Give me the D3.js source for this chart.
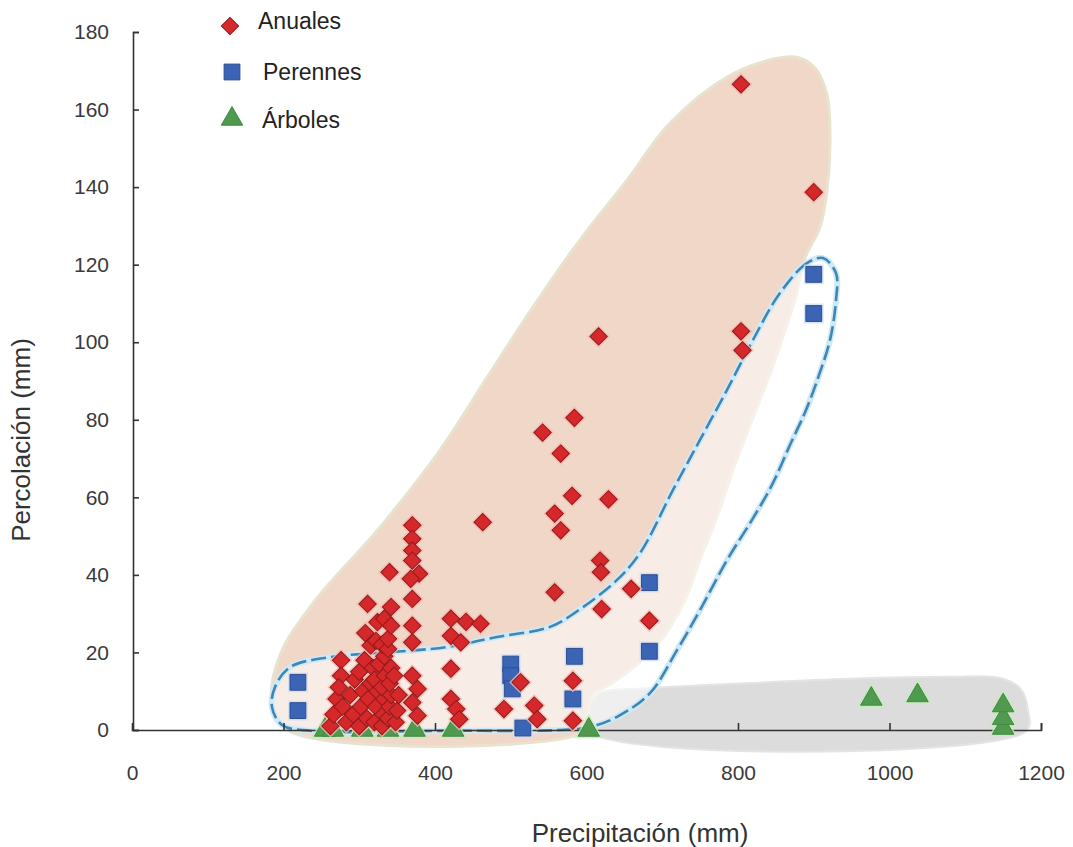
<!DOCTYPE html>
<html>
<head>
<meta charset="utf-8">
<script src="https://cdn.jsdelivr.net/npm/d3@7"></script>
<style>
  html, body { margin: 0; padding: 0; background: #ffffff; }
  svg { display: block; font-family: "Liberation Sans", Arial, Helvetica, sans-serif; }
</style>
</head>
<body>
<svg id="chart" width="1073" height="847"></svg>
<script>
// ---------------- DATA ----------------
const xTicks = [0, 200, 400, 600, 800, 1000, 1200];
const yTicks = [0, 20, 40, 60, 80, 100, 120, 140, 160, 180];
const xTitle = "Precipitación (mm)";
const yTitle = "Percolación (mm)";
const seriesNames = ["Anuales", "Perennes", "Árboles"];

// Anuales: [precipitación, percolación]
const anuales = [
  [262,1],[266,4],[270,8],[276,18],[276,14],[273,11],[278,6],[283,2],[288,9],[292,4],[294,13],
  [300,1],[302,6],[305,10],[300,15],[307,18],[310,3],[312,8],[315,12],[315,21.8],[311,32.5],[318,16],[308,25],
  [320,2],[322,6],[324,10],[320,13],[326,17],[324,27.8],[322,23],[330,1],[332,4],[333,8],[330,11],[334,14],[333,19],[330,22],[333,28.7],
  [338,3],[340,6],[342,9],[340,12],[342,16],[338,20.9],[338,23.5],[342,26.9],[342,31.7],[340,40.7],[348,2],[350,5],[352,9],[346,14],
  [370,52.8],[370,49.3],[370,46.3],[370,43.7],[379,40.3],[370,33.8],[370,26.9],[370,22.6],[370,14],[377,10.6],[370,7.1],[377,3.7],[368,39],
  [421,28.7],[441,27.9],[460,27.4],[421,24.3],[434,22.6],[421,15.8],[421,8],[428,5.4],[432,2.8],[463,53.6],
  [491,5.4],[531,6.3],[535,2.8],[513,12.3],
  [542,76.7],[558,55.8],[566,51.5],[566,71.3],[584,80.5],[581,60.4],[629,59.5],[558,35.5],[618,43.7],[619,40.7],
  [620,31.2],[659,36.4],[683,28.2],[582,12.7],[582,2.4],[616,101.5],
  [804,102.8],[806,97.9],[804,166.5],[900,138.7]
];
const perennes = [
  [219,12.3],[219,5],[500,17],[500,14],[502,10.6],[516,0.5],[584,19],[582,8],[683,38],[683,20.3],[900,117.5],[900,107.4]
];
const arboles = [
  [255,0],[265,0],[304,0],[338,0],[373,0],[424,0],[603,0],[976,8],[1037,8.9],[1150,0.5],[1150,3],[1150,6.3]
];

// Hand-drawn envelopes (data units)
const anualesZone = [
  [208.6,-0.3],[184.8,7.7],[195.4,19.3],[238.9,32.7],[327.4,52.3],[406.6,72.2],[472.6,92.1],[529.4,109.1],
  [591.4,126.4],[653.5,141.8],[710.2,156.5],[785.5,168.4],[842.2,172.8],[877.9,173.5],[901.7,170.7],
  [917.5,163.7],[921.5,152.1],[917.5,139.2],[908.3,129.7],[888.4,121.7],[875.2,110.9],[858.1,100.6],
  [839.6,90.3],[818.5,79.9],[793.4,67.0],[771.0,54.2],[749.8,43.8],[730.0,33.5],[703.6,24.5],[670.6,17.5],
  [633.7,12.1],[608.6,9.0],[602,3.9],[599.3,-0.3]
];
const arbolesZone = [
  [602,-0.3],[604.6,6.4],[617.8,9.5],[683.8,10.8],[815.8,12.1],[947.9,13.2],[1079.9,13.7],[1145.9,13.4],
  [1172.3,10.8],[1182.8,5.2],[1180.2,-0.3]
];
const perennesZone = [
  [912.2,121.7],[891.1,120.4],[855.4,112.7],[819.8,100.6],[785.5,87.7],[749.8,74.8],[714.2,61.9],[670.6,45.6],
  [640.3,38.7],[595.4,31.7],[551.8,26.6],[481.8,24.0],[415.8,21.4],[327.4,19.9],[261.4,18.8],[208.6,16.2],
  [188.8,11.1],[184.8,5.9],[198.0,1.3],[235,-0.2],[420,-0.2],[565,0],[604.6,0.8],[640.3,3.4],[683.8,9.5],
  [719.5,20.6],[749.8,30.9],[785.5,43.8],[818.5,54.2],[844.9,63.2],[868.6,73.5],[889.8,82.5],[906.9,91.5],
  [921.5,100.6],[929.4,110.9],[929.4,117.8]
];

// ---------------- CHART ----------------
const svg = d3.select("#chart");
const x = d3.scaleLinear().domain([0, 1200]).range([132, 1041]);
const y = d3.scaleLinear().domain([0, 180]).range([730, 32]);

const area = d3.line().x(d => x(d[0])).y(d => y(d[1])).curve(d3.curveCatmullRomClosed.alpha(0.5));

// zones
svg.append("path").attr("d", area(arbolesZone))
  .attr("fill", "#dcdcdc").attr("stroke", "#e4e4e4").attr("stroke-width", 2);
svg.append("path").attr("d", area(anualesZone))
  .attr("fill", "#f0d7c7").attr("stroke", "#e7e3cf").attr("stroke-width", 3);
svg.append("path").attr("d", area(perennesZone))
  .attr("fill", "#ffffff").attr("fill-opacity", 0.55)
  .attr("stroke", "#cfe9f6").attr("stroke-width", 6);
svg.append("path").attr("d", area(perennesZone))
  .attr("fill", "none").attr("stroke", "#3f86b4").attr("stroke-width", 2.6)
  .attr("stroke-dasharray", "15,5");

// axes
const yAxis = d3.axisLeft(y).tickValues(yTicks).tickSize(-6).tickSizeOuter(-6).tickPadding(24).tickFormat(d3.format("d"));
const xAxis = d3.axisBottom(x).tickValues(xTicks).tickSize(-7).tickSizeOuter(-7).tickPadding(35).tickFormat(d3.format("d"));

const gy = svg.append("g").attr("transform", "translate(133,0)").call(yAxis);
const gx = svg.append("g").attr("transform", "translate(0,730)").call(xAxis);
[gx, gy].forEach(g => {
  g.select(".domain").attr("stroke", "#333").attr("stroke-width", 1.6);
  g.selectAll(".tick line").attr("stroke", "#333").attr("stroke-width", 1.6);
  g.selectAll(".tick text").attr("fill", "#3a3a3a").attr("font-size", 21)
    .attr("font-family", "'Liberation Sans', Arial, sans-serif");
});
gx.select(".tick line").remove(); // no tick at origin on x axis

// titles
svg.append("text").attr("x", 640).attr("y", 842).attr("text-anchor", "middle")
  .attr("font-size", 26).attr("fill", "#333").text(xTitle);
svg.append("text").attr("transform", "translate(30,440) rotate(-90)").attr("text-anchor", "middle")
  .attr("font-size", 26).attr("fill", "#333").text(yTitle);

// markers
const sym = {
  diamond: d3.symbol().type(d3.symbolSquare).size(150)(),
  square: d3.symbol().type(d3.symbolSquare).size(250)(),
  triangle: d3.symbol().type(d3.symbolTriangle).size(200)()
};

function drawSeries(data, path, rot, fill, stroke, halo) {
  const g = svg.append("g");
  g.selectAll("path.halo").data(data).join("path").attr("class", "halo")
    .attr("d", path)
    .attr("transform", d => `translate(${x(d[0])},${y(d[1])}) rotate(${rot})`)
    .attr("fill", "none").attr("stroke", halo).attr("stroke-width", 4).attr("stroke-opacity", 0.8);
  g.selectAll("path.mk").data(data).join("path").attr("class", "mk")
    .attr("d", path)
    .attr("transform", d => `translate(${x(d[0])},${y(d[1])}) rotate(${rot})`)
    .attr("fill", fill).attr("stroke", stroke).attr("stroke-width", 1);
}
drawSeries(arboles, sym.triangle, 0, "#4f9a4f", "#3f8a40", "#c4ecbc");
drawSeries(perennes, sym.square, 0, "#3b64b4", "#2d4f93", "#cfdcf2");
drawSeries(anuales, sym.diamond, 45, "#d6282b", "#8e1b1b", "#f4b6b0");

// legend
const legend = [
  {name: seriesNames[0], path: sym.diamond, rot: 45, fill: "#d6282b", stroke: "#8e1b1b", mx: 230, my: 26, tx: 258, ty: 29},
  {name: seriesNames[1], path: sym.square, rot: 0, fill: "#3b64b4", stroke: "#2d4f93", mx: 232, my: 72, tx: 263, ty: 80},
  {name: seriesNames[2], path: sym.triangle, rot: 0, fill: "#4f9a4f", stroke: "#3f8a40", mx: 232, my: 119, tx: 262, ty: 128}
];
const lg = svg.append("g");
legend.forEach(l => {
  lg.append("path").attr("d", l.path)
    .attr("transform", `translate(${l.mx},${l.my}) rotate(${l.rot})`)
    .attr("fill", l.fill).attr("stroke", l.stroke).attr("stroke-width", 1);
  lg.append("text").attr("x", l.tx).attr("y", l.ty).attr("font-size", 23).attr("fill", "#222").text(l.name);
});
</script>
</body>
</html>
